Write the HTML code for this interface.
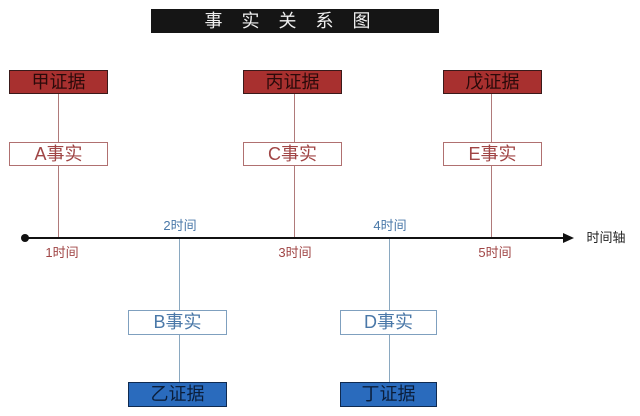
<!DOCTYPE html>
<html><head><meta charset="utf-8"><style>
body{margin:0;width:640px;height:416px;background:#fff;position:relative;overflow:hidden;font-family:"Liberation Sans","Noto Sans CJK SC",sans-serif}
.b{position:absolute;box-sizing:border-box;text-align:center;font-size:18px;line-height:22px}
.r{background:#a8302f;border:1px solid #3a1a1a;color:#2a0a0a}
.bl{background:#2a6bbd;border:1px solid #0f2a50;color:#0b1e3a}
.fr{background:#fff;border:1px solid #b07070;color:#a04545}
.fb{background:#fff;border:1px solid #7fa0bf;color:#4a78a8}
.l{position:absolute;width:1px}
.t{position:absolute;font-size:13px;line-height:14px;transform:translateX(-50%);white-space:nowrap}
</style></head><body>
<div class="b" style="left:151px;top:9px;width:288px;height:24px;background:#151515;color:#eee;letter-spacing:19px;font-size:18px;line-height:24px;text-indent:4px">事实关系图</div>

<div class="l" style="left:58px;top:94px;height:144px;background:#b07a7a"></div>
<div class="l" style="left:294px;top:94px;height:144px;background:#b07a7a"></div>
<div class="l" style="left:491px;top:94px;height:144px;background:#b07a7a"></div>
<div class="l" style="left:179px;top:238px;height:145px;background:#8aa8c0"></div>
<div class="l" style="left:389px;top:238px;height:145px;background:#8aa8c0"></div>

<div class="b r" style="left:9px;top:70px;width:99px;height:24px">甲证据</div>
<div class="b r" style="left:243px;top:70px;width:99px;height:24px">丙证据</div>
<div class="b r" style="left:443px;top:70px;width:99px;height:24px">戊证据</div>
<div class="b fr" style="left:9px;top:142px;width:99px;height:24px">A事实</div>
<div class="b fr" style="left:243px;top:142px;width:99px;height:24px">C事实</div>
<div class="b fr" style="left:443px;top:142px;width:99px;height:24px">E事实</div>
<div class="b fb" style="left:128px;top:310px;width:99px;height:25px">B事实</div>
<div class="b fb" style="left:340px;top:310px;width:97px;height:25px">D事实</div>
<div class="b bl" style="left:128px;top:382px;width:99px;height:25px">乙证据</div>
<div class="b bl" style="left:340px;top:382px;width:97px;height:25px">丁证据</div>

<div style="position:absolute;left:25px;top:237px;width:540px;height:2px;background:#111"></div>
<div style="position:absolute;left:21px;top:234px;width:8px;height:8px;border-radius:50%;background:#111"></div>
<div style="position:absolute;left:563px;top:233px;width:0;height:0;border-left:11px solid #111;border-top:5px solid transparent;border-bottom:5px solid transparent"></div>
<div class="t" style="left:606px;top:231px;color:#222;font-size:13px">时间轴</div>

<div class="t" style="left:62px;top:246px;color:#a04545">1时间</div>
<div class="t" style="left:180px;top:219px;color:#4a78a8">2时间</div>
<div class="t" style="left:295px;top:246px;color:#a04545">3时间</div>
<div class="t" style="left:390px;top:219px;color:#4a78a8">4时间</div>
<div class="t" style="left:495px;top:246px;color:#a04545">5时间</div>
</body></html>
